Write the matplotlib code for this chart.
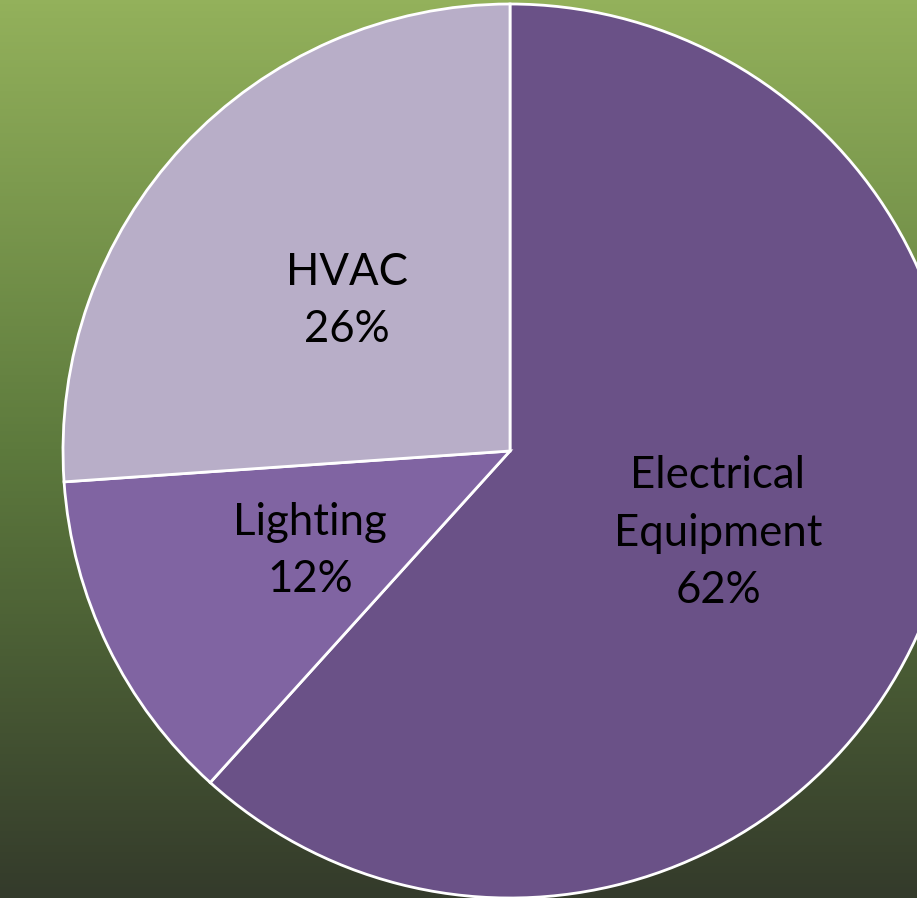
import numpy as np
import matplotlib.pyplot as plt
from matplotlib.colors import LinearSegmentedColormap

categories = ['Electrical\nEquipment', 'Lighting', 'HVAC']
shares = [61.7, 12.2, 26.1]
pct_labels = ['62%', '12%', '26%']
colors = ['#6a5187', '#8064a2', '#b8aec8']

W, H = 917, 898
fig = plt.figure(figsize=(W / 100, H / 100), dpi=100)
ax = fig.add_axes([0, 0, 1, 1])

# green background gradient, light at top
bg = LinearSegmentedColormap.from_list('bg', ['#343b2b', '#5d7a3d', '#93b15b'])
grad = np.linspace(0, 1, 256).reshape(-1, 1)
ax.imshow(grad, cmap=bg, extent=[0, W, 0, H], origin='lower', aspect='auto', zorder=0)

wedges, _ = ax.pie(shares, colors=colors, startangle=90, counterclock=False,
                   center=(510, H - 451), radius=447, frame=True,
                   wedgeprops=dict(edgecolor='white', linewidth=2))
for w in wedges:
    w.set_zorder(1)
ax.set_xlim(0, W)
ax.set_ylim(0, H)
ax.axis('off')

pos = [(718, 533), (310, 551), (347, 301)]
for cat, pct, (x, y) in zip(categories, pct_labels, pos):
    ax.text(x, H - y, cat + '\n' + pct, ha='center', va='center', fontsize=31.5,
            family='Lato', color='black', linespacing=1.5, zorder=3)

fig.savefig('out.png', dpi=100)
